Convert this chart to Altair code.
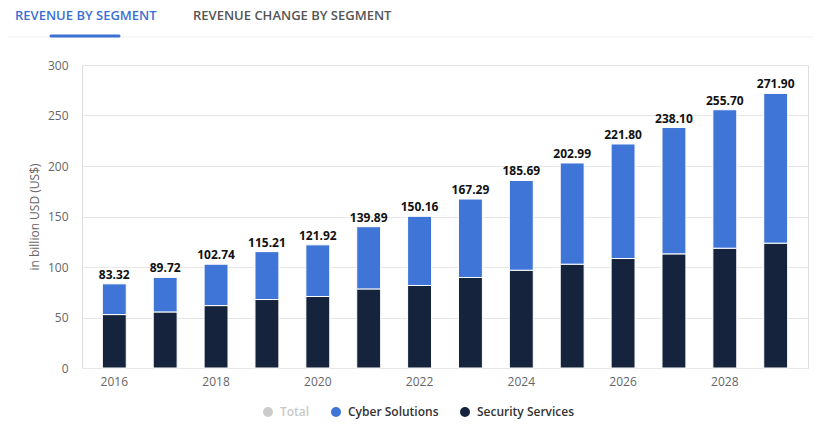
import altair as alt
import pandas as pd

years = [str(y) for y in range(2016, 2030)]
totals = [83.32, 89.72, 102.74, 115.21, 121.92, 139.89, 150.16, 167.29, 185.69, 202.99, 221.80, 238.10, 255.70, 271.90]
security = [52.9, 55.5, 61.8, 67.8, 70.8, 78.3, 81.7, 89.6, 96.8, 102.8, 108.4, 113.0, 118.6, 123.6]
cyber = [30.42, 34.22, 40.94, 47.41, 51.12, 61.59, 68.46, 77.69, 88.89, 100.19, 113.40, 125.10, 137.10, 148.30]
series = ["Total", "Cyber Solutions", "Security Services"]
colors = ["#cccccc", "#3f75d7", "#15243c"]
tabs = ["REVENUE BY SEGMENT", "REVENUE CHANGE BY SEGMENT"]

rows = []
for y, s, c in zip(years, security, cyber):
    rows.append({"year": y, "segment": "Security Services", "value": s, "ord": 0})
    rows.append({"year": y, "segment": "Cyber Solutions", "value": c, "ord": 1})
df = pd.DataFrame(rows)
tot = pd.DataFrame({"year": years, "total": totals, "label": [f"{t:.2f}" for t in totals]})
one = alt.Data(values=[{"a": 1}])

FONT = "Open Sans"
W, H = 726, 303

xenc = alt.X("year:N", sort=years,
             scale=alt.Scale(paddingInner=0.53, paddingOuter=0.4),
             axis=alt.Axis(title=None, labelAngle=0, ticks=False, domain=False,
                           labelColor="#666666", labelFontSize=12, labelPadding=8, labelFont=FONT,
                           labelExpr="toNumber(datum.label) % 2 == 0 ? datum.label : ''"))

bars = alt.Chart(df).mark_bar(stroke="white", strokeWidth=1).encode(
    x=xenc,
    y=alt.Y("value:Q", stack="zero",
            scale=alt.Scale(domain=[0, 300]),
            axis=alt.Axis(values=[0, 50, 100, 150, 200, 250, 300], title="in billion USD (US$)",
                          titleFontWeight="normal", titleColor="#666666", titleFontSize=12, titleFont=FONT,
                          titlePadding=6, labelColor="#666666", labelFontSize=12, labelFont=FONT,
                          labelPadding=14, ticks=False, domain=False, gridColor="#e6e6e6")),
    color=alt.Color("segment:N", scale=alt.Scale(domain=series, range=colors),
                    legend=alt.Legend(title=None, orient="none", direction="horizontal",
                                      legendX=180, legendY=341, symbolType="circle", symbolSize=100,
                                      symbolStrokeWidth=0, labelFontSize=12, labelFont=FONT,
                                      labelFontWeight=600, columnPadding=20, labelOffset=6,
                                      labelColor={"expr": "datum.label == 'Total' ? '#c8c8c8' : '#333333'"})),
    order=alt.Order("ord:Q"),
)

labels = alt.Chart(tot).mark_text(dy=-9, fontSize=12, fontWeight="bold", font=FONT, color="#111111").encode(
    x=alt.X("year:N", sort=years),
    y=alt.Y("total:Q"),
    text="label:N",
)

tab1 = alt.Chart(one).mark_text(align="left", baseline="middle", fontSize=13, fontWeight=600,
                                font=FONT, color="#3b6fd4", text=tabs[0]).encode(
    x=alt.value(-67), y=alt.value(-49))
tab2 = alt.Chart(one).mark_text(align="left", baseline="middle", fontSize=13, fontWeight=600,
                                font=FONT, color="#555555", text=tabs[1]).encode(
    x=alt.value(111), y=alt.value(-49))
sep = alt.Chart(one).mark_rule(color="#f0f0f0", strokeWidth=1).encode(
    x=alt.value(-82), x2=alt.value(740), y=alt.value(-28))
underline = alt.Chart(one).mark_rule(color="#3b6fd4", strokeWidth=3, strokeCap="round").encode(
    x=alt.value(-31), x2=alt.value(37), y=alt.value(-29))

chart = alt.layer(sep, underline, tab1, tab2, bars, labels).properties(
    width=W, height=H,
    autosize=alt.AutoSizeParams(type="none"),
    padding={"left": 74, "top": 57, "right": 6, "bottom": 60},
).configure_view(stroke=None).configure(font=FONT)

chart.save("out.html", embed_options={"renderer": "svg", "actions": False})
